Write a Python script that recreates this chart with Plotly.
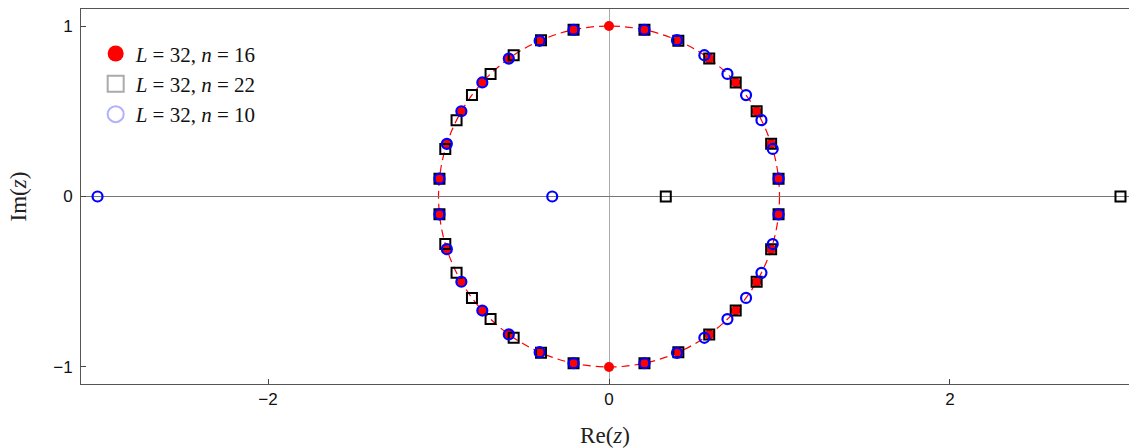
import numpy as np
import plotly.graph_objects as go

# Zeros of the polynomials, given as angle on the unit circle (degrees)
# plus the real zeros off the circle.
ang_n16 = [6, 18, 30, 42, 54, 66, 78, 90, 102, 114, 126, 138, 150, 162, 174,
           -6, -18, -30, -42, -54, -66, -78, -90, -102, -114, -126, -138, -150, -162, -174]

ang_n10 = [6, 16.2, 26.6, 36.5, 46, 56, 66.5, 78, 102, 114, 126, 138, 150, 162, 174,
           -6, -16.2, -26.6, -36.5, -46, -56, -66.5, -78, -102, -114, -126, -138, -150, -162, -174]
real_n10 = [-3.0, -0.333]

ang_n22 = [174, 163.8, 153.4, 143.5, 134, 124, 113.5, 102, 78, 66, 54, 42, 30, 18, 6,
           -174, -163.8, -153.4, -143.5, -134, -124, -113.5, -102, -78, -66, -54, -42, -30, -18, -6]
real_n22 = [3.0, 0.333]

labels = ["<i>L</i> = 32, <i>n</i> = 16",
          "<i>L</i> = 32, <i>n</i> = 22",
          "<i>L</i> = 32, <i>n</i> = 10"]


def on_circle(angles, reals=()):
    a = np.deg2rad(angles)
    re = list(np.cos(a)) + list(reals)
    im = list(np.sin(a)) + [0.0] * len(reals)
    return re, im


x16, y16 = on_circle(ang_n16)
x22, y22 = on_circle(ang_n22, real_n22)
x10, y10 = on_circle(ang_n10, real_n10)

fig = go.Figure()

fig.add_trace(go.Scatter(x=x16, y=y16, mode="markers", showlegend=False,
                         marker=dict(symbol="circle", size=10, color="#ff0000",
                                     line=dict(width=0))))
fig.add_trace(go.Scatter(x=x22, y=y22, mode="markers", showlegend=False,
                         marker=dict(symbol="square-open", size=10, color="#000000",
                                     line=dict(width=2))))
fig.add_trace(go.Scatter(x=x10, y=y10, mode="markers", showlegend=False,
                         marker=dict(symbol="circle-open", size=10, color="#0000ff",
                                     line=dict(width=2.2))))

# legend entries (faded like the original)
fig.add_trace(go.Scatter(x=[None], y=[None], mode="markers", name=labels[0],
                         marker=dict(symbol="circle", size=16, color="#ff0000")))
fig.add_trace(go.Scatter(x=[None], y=[None], mode="markers", name=labels[1],
                         marker=dict(symbol="square-open", size=16, color="#aaaaaa",
                                     line=dict(width=2))))
fig.add_trace(go.Scatter(x=[None], y=[None], mode="markers", name=labels[2],
                         marker=dict(symbol="circle-open", size=16, color="#b0b0ff",
                                     line=dict(width=2))))

# unit circle
fig.add_shape(type="circle", xref="x", yref="y", x0=-1, y0=-1, x1=1, y1=1,
              line=dict(color="#ff0000", width=1.2, dash="8px,5px"), layer="below")

tickfont = dict(family="Liberation Sans, Arial, sans-serif", size=17, color="#111111")
titlefont = dict(family="Liberation Serif, Times New Roman, serif", size=23, color="#222222")

fig.update_xaxes(range=[-3.097, 3.05], tickvals=[-2, 0, 2], ticks="inside", ticklen=5,
                 tickcolor="#444444", showgrid=False, showline=True, linecolor="#555555",
                 linewidth=1, mirror=True, zeroline=True, zerolinecolor="#aaaaaa",
                 zerolinewidth=1.2, tickfont=tickfont,
                 title=dict(text="Re(<i>z</i>)", font=titlefont, standoff=18))
fig.update_yaxes(range=[-1.1, 1.1], tickvals=[-1, 0, 1], ticks="inside", ticklen=5,
                 tickcolor="#444444", showgrid=False, showline=True, linecolor="#555555",
                 linewidth=1, zeroline=True, zerolinecolor="#777777", zerolinewidth=1.2,
                 tickfont=tickfont, ticklabelstandoff=4,
                 title=dict(text="Im(<i>z</i>)", font=titlefont, standoff=20))

fig.update_layout(
    width=1129, height=448,
    margin=dict(l=81, r=0, t=9, b=64, autoexpand=False),
    plot_bgcolor="white", paper_bgcolor="white",
    legend=dict(x=0.014, y=0.935, xanchor="left", yanchor="top",
                bgcolor="rgba(255,255,255,0)",
                font=dict(family="Liberation Serif, Times New Roman, serif", size=21,
                          color="#111111"),
                itemsizing="trace", tracegroupgap=0),
)

fig.write_html("out.html", config={"displayModeBar": False},
               post_script="document.body.style.margin='0';document.body.style.overflow='hidden';")
